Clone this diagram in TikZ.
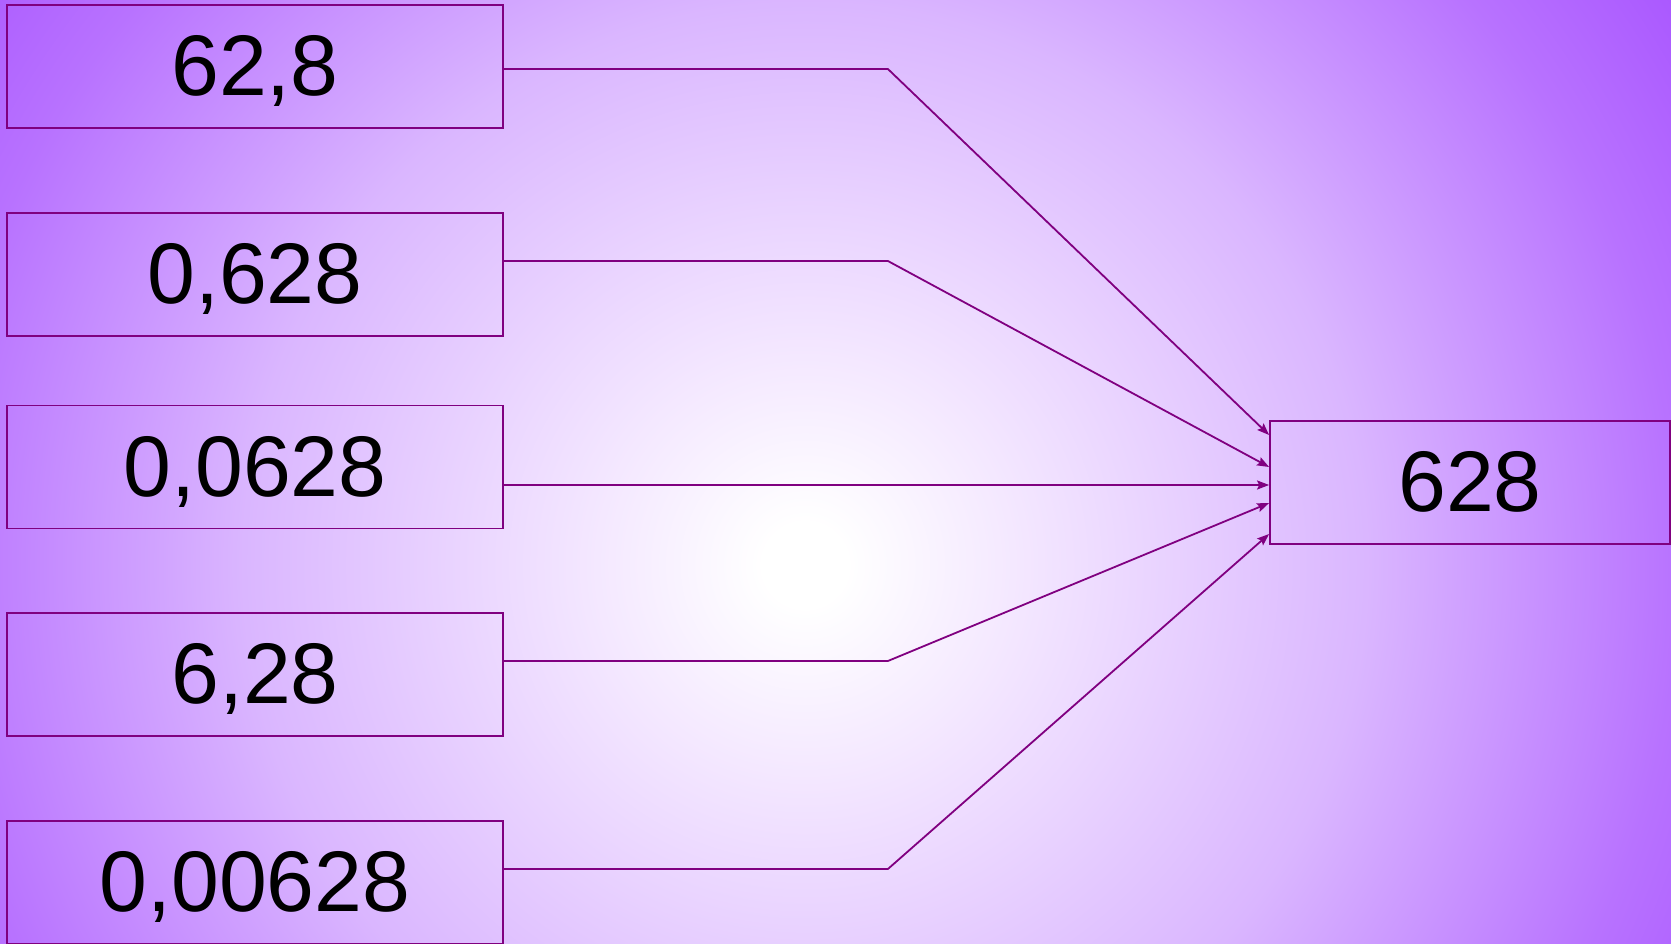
\documentclass[tikz,border=0pt]{standalone}
\usepackage{fontspec}
\setmainfont{Liberation Sans}
\usetikzlibrary{arrows.meta}
\definecolor{linec}{HTML}{800080}
\definecolor{bgA}{RGB}{244,232,255}
\definecolor{bgB}{RGB}{218,182,255}
\definecolor{bgC}{RGB}{184,114,255}
\definecolor{bgD}{RGB}{170,88,255}
\pgfdeclareradialshading{bgshade}{\pgfpoint{0bp}{0bp}}{color(0bp)=(white); color(1bp)=(white); color(5bp)=(bgA); color(13.5bp)=(bgB); color(21bp)=(bgC); color(25bp)=(bgD); color(50bp)=(bgD)}
\tikzset{
  numbox/.style={draw=linec, line width=1.8pt, rectangle, inner sep=0pt,
    text height=62pt, text depth=4pt,
    font=\fontsize{86}{90}\selectfont, text=black},
  conn/.style={draw=linec, line width=1.8pt, -{Stealth[length=12pt,width=9pt,inset=2pt]}}
}
\begin{document}
\begin{tikzpicture}[x=1pt,y=-1pt]
\useasboundingbox (0,0) rectangle (1671,944);
\begin{scope}
  \clip (0,0) rectangle (1671,944);
  \shade[shading=bgshade] (805,565) circle (1040);
\end{scope}
\node[numbox, minimum width=496pt, minimum height=123pt] (b1) at (255,66.3) {62,8};
\node[numbox, minimum width=496pt, minimum height=123pt] (b2) at (255,274.5) {0,628};
\node[numbox, minimum width=496pt, minimum height=123pt] (b3) at (255,467) {0,0628};
\node[numbox, minimum width=496pt, minimum height=123pt] (b4) at (255,674.5) {6,28};
\node[numbox, minimum width=496pt, minimum height=123pt] (b5) at (255,882.5) {0,00628};
\node[numbox, minimum width=400pt, minimum height=123pt] (r) at (1470,482.5) {628};
\draw[conn] ([yshift=-2.7pt]b1.east) -- ++(384,0) -- ([yshift=47.5pt]r.west);
\draw[conn] ([yshift=13.5pt]b2.east) -- ++(384,0) -- ([yshift=15.5pt]r.west);
\draw[conn] ([yshift=-18pt]b3.east) -- ([yshift=-2.5pt]r.west);
\draw[conn] ([yshift=13.5pt]b4.east) -- ++(384,0) -- ([yshift=-20.5pt]r.west);
\draw[conn] ([yshift=13.5pt]b5.east) -- ++(384,0) -- ([yshift=-51.5pt]r.west);
\end{tikzpicture}
\end{document}
